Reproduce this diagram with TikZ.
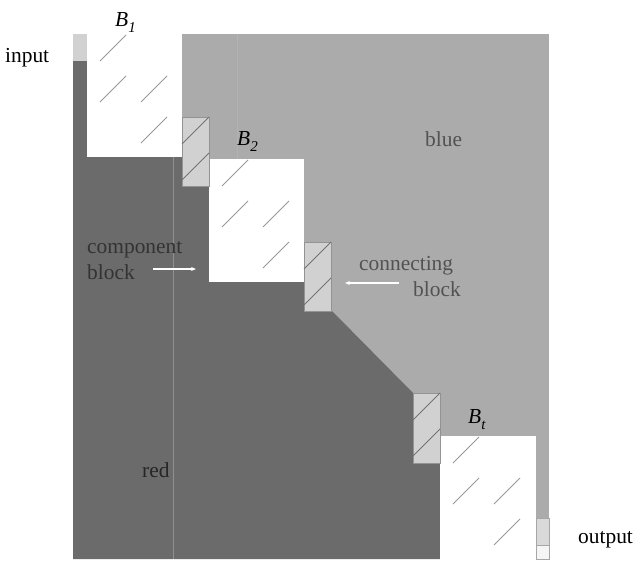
\documentclass[tikz,border=0pt]{standalone}
\usepackage{fontspec}
\setmainfont{Liberation Serif}
\usetikzlibrary{calc,arrows.meta}

\definecolor{bluearea}{gray}{0.67}
\definecolor{redarea}{gray}{0.42}
\definecolor{linkfill}{gray}{0.82}
\definecolor{labelgray}{gray}{0.32}

\tikzset{
  wblock/.style={fill=white,inner sep=0pt,outer sep=0pt,anchor=north west,
    minimum width=95pt,minimum height=123pt},
  cblock/.style={draw=gray!85,fill=linkfill,line width=0.6pt,inner sep=0pt,
    outer sep=0pt,anchor=north west,minimum width=27pt,minimum height=69pt},
  slash/.style={draw=gray!80,line width=1pt},
  warrow/.style={draw=white,line width=1.1pt,-{Stealth[length=5pt,width=4pt]}},
  lbl/.style={font=\fontsize{21.4}{26}\selectfont,inner sep=0pt}
}

\newcommand{\slashes}[1]{%
  \foreach \dx/\dy in {13/27,13/68,54/68,54/109}
    \draw[slash] ($(#1.north west)+(\dx,\dy)$) -- ++(26,-26);}
\newcommand{\links}[1]{%
  \draw[slash,draw=gray!110] ($(#1.north west)+(0,27)$) -- (#1.north east);
  \draw[slash,draw=gray!110] ($(#1.north west)+(0,63)$) -- ($(#1.north east)+(0,36)$);}
\newcommand{\blk}[1]{\textit{B}\raisebox{-6pt}{\fontsize{15}{15}\selectfont\textit{#1}}}

\begin{document}
\begin{tikzpicture}[x=1pt,y=-1pt]
  \useasboundingbox (0,0) rectangle (636,562);

  % areas
  \fill[bluearea] (73,34) rectangle (549,559);
  \fill[redarea] (73,61) -- (87,61) -- (87,157) -- (182,157) -- (182,186)
    -- (209,186) -- (209,282) -- (304,282) -- (304,310) -- (331,310)
    -- (413,393) -- (413,463) -- (440,463) -- (440,559) -- (73,559) -- cycle;
  \draw[redarea!75!white,line width=1pt] (173,157) -- (173,559);
  \draw[bluearea!90!white,line width=1pt] (237,34) -- (237,159);

  % input / output cells
  \fill[linkfill] (73,34) rectangle (87,61);
  \filldraw[fill=gray!30,draw=gray!70,line width=0.5pt] (536,518) rectangle (549,545);
  \filldraw[fill=gray!8,draw=gray!70,line width=0.5pt] (536,545) rectangle (549,559);

  % component blocks
  \node[wblock] (B1) at (87,34) {};
  \node[wblock] (B2) at (209,159) {};
  \node[wblock,minimum width=96pt] (Bt) at (440,436) {};
  \slashes{B1}
  \slashes{B2}
  \slashes{Bt}

  % connecting blocks
  \node[cblock] (C1) at (182,117) {};
  \node[cblock] (C2) at (304,242) {};
  \node[cblock,minimum height=70pt] (C3) at (413,393) {};
  \links{C1}
  \links{C2}
  \links{C3}

  % labels
  \node[lbl,anchor=base west] (lB1) at (115,26) {\blk{1}};
  \node[lbl,anchor=base west] (lB2) at (237,145) {\blk{2}};
  \node[lbl,anchor=base west] (lBt) at (468,423) {\blk{t}};
  \node[lbl,anchor=base west] (inp) at (5,62) {input};
  \node[lbl,anchor=base west] (outp) at (578,543) {output};
  \node[lbl,anchor=base west,text=labelgray] (blue) at (425,146) {blue};
  \node[lbl,anchor=base west,text=black!85] (red) at (142,477) {red};
  \node[lbl,anchor=north west,align=left,text=black!80] (cmp) at (87,241)
    {component\\block};
  \node[lbl,anchor=north west,align=left,text=labelgray] (con) at (359,256)
    {connecting\\\hspace*{54pt}block};

  % arrows
  \coordinate (cmptail) at (153,269);
  \coordinate (contail) at (399,283);
  \draw[warrow,shorten >=13pt] (cmptail) -- (cmptail -| B2.west);
  \draw[warrow,shorten >=14pt] (contail) -- (contail -| C2.east);
\end{tikzpicture}
\end{document}
